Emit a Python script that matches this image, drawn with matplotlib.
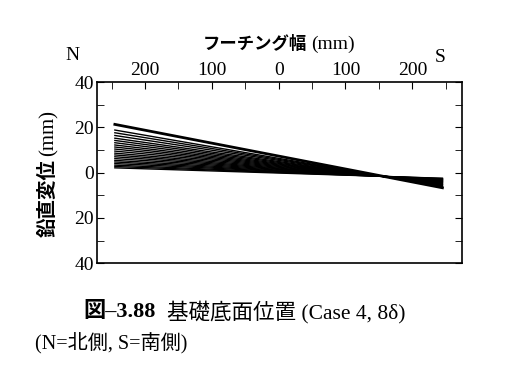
import matplotlib
matplotlib.use("Agg")
from matplotlib import pyplot as plt
from matplotlib.ticker import MultipleLocator

SERIF_JP = ['Liberation Serif', 'Noto Sans CJK JP']
GOTHIC = ['Noto Sans CJK JP', 'Liberation Serif']

## footing width positions (N side negative)
x_pos = [-245, 245]
## vertical displacement at N end and S end, one pair per step
north_end = [21.3, 18.8, 17.6, 16.4, 15.2, 14.2, 13.2, 12.2, 11.3, 10.4, 9.5,
             8.6, 7.8, 7.0, 6.2, 5.4, 4.7, 4.0, 3.3, 2.7, 2.1]
south_end = [-6.7, -6.2, -5.9, -5.6, -5.4, -5.2, -5.0, -4.7, -4.5, -4.3, -4.1,
             -3.9, -3.8, -3.6, -3.4, -3.2, -3.1, -2.9, -2.8, -2.6, -2.5]

x_ticks = [-200, -100, 0, 100, 200]
x_labels = ['200', '100', '0', '100', '200']
y_ticks = [-40, -20, 0, 20, 40]
y_labels = ['40', '20', '0', '20', '40']

fig = plt.figure(figsize=(5.29, 3.87), dpi=100)
ax = fig.add_axes([0.183, 0.320, 0.690, 0.468])

for i, (n, s) in enumerate(zip(north_end, south_end)):
    lw = 2.0 if i == 0 else 1.0
    ax.plot(x_pos, [n, s], color='black', lw=lw)

ax.set_xlim(-272, 274)
ax.set_ylim(-40, 40)
ax.xaxis.tick_top()
ax.set_xticks(x_ticks)
ax.set_xticklabels(x_labels, family=SERIF_JP, fontsize=14)
ax.xaxis.set_minor_locator(MultipleLocator(50))
ax.set_yticks(y_ticks)
ax.set_yticklabels(y_labels, family=SERIF_JP, fontsize=14)
ax.yaxis.set_minor_locator(MultipleLocator(10))
ax.tick_params(which='both', direction='in', top=True, bottom=False,
               left=True, right=True, labeltop=True, labelbottom=False)
ax.tick_params(which='major', length=5, pad=2)
ax.tick_params(which='minor', length=5)
for sp in ax.spines.values():
    sp.set_linewidth(1.2)

# axis titles: gothic bold japanese + serif unit
fig.text(307/529, 1 - 44/387, 'フーチング幅', family=GOTHIC, fontsize=12.5,
         fontweight='bold', ha='right', va='center')
fig.text(311/529, 1 - 44/387, '(mm)', family=SERIF_JP, fontsize=14,
         ha='left', va='center')
fig.text(48/529, 1 - 237/387, '鉛直変位', family=GOTHIC, fontsize=14,
         fontweight='bold', rotation=90, ha='center', va='bottom')
fig.text(49/529, 1 - 156/387, '(mm)', family=SERIF_JP, fontsize=15,
         rotation=90, ha='center', va='bottom')
fig.text(72/529, 1 - 55/387, 'N', family=SERIF_JP, fontsize=14,
         ha='center', va='center')
fig.text(440/529, 1 - 58/387, 'S', family=SERIF_JP, fontsize=14,
         ha='center', va='center')

fig.text(83/529, 1 - 312/387, '図–3.88', family=SERIF_JP, fontsize=16,
         fontweight='bold', ha='left', va='center')
fig.text(167/529, 1 - 312/387, '基礎底面位置 (Case 4, 8δ)', family=SERIF_JP,
         fontsize=15.5, ha='left', va='center')
fig.text(35/529, 1 - 343/387, '(N=北側, S=南側)', family=SERIF_JP, fontsize=14.5,
         ha='left', va='center')

fig.savefig('out.png', dpi=100)
